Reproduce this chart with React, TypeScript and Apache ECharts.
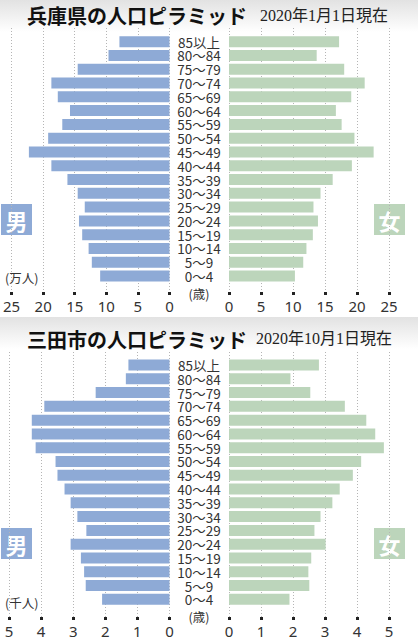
import { useEffect, useRef } from "react";
import * as echarts from "echarts";

const ages = ["0～4", "5～9", "10～14", "15～19", "20～24", "25～29", "30～34", "35～39", "40～44", "45～49", "50～54", "55～59", "60～64", "65～69", "70～74", "75～79", "80～84", "85以上"];

// 兵庫県 (万人), 0～4 first
const hyogoMale = [10.8, 12.1, 12.6, 13.6, 14.1, 13.2, 14.3, 15.9, 18.4, 21.9, 18.9, 16.7, 15.5, 17.4, 18.4, 14.3, 9.5, 7.8];
const hyogoFemale = [10.3, 11.6, 12.1, 13.1, 13.9, 13.2, 14.3, 16.2, 19.2, 22.6, 19.6, 17.6, 16.7, 19.1, 21.2, 18.0, 13.7, 17.2];

// 三田市 (千人)
const sandaMale = [2.1, 2.61, 2.66, 2.76, 3.08, 2.59, 2.87, 3.08, 3.27, 3.49, 3.55, 4.17, 4.29, 4.29, 3.9, 2.3, 1.36, 1.28];
const sandaFemale = [1.89, 2.51, 2.48, 2.57, 3.02, 2.67, 2.86, 3.23, 3.46, 3.87, 4.13, 4.84, 4.57, 4.29, 3.62, 2.54, 1.92, 2.81];

const BLUE = "#8eaad6";
const GREEN = "#bcd5bb";
const FONT = "'Noto Sans CJK JP', 'Noto Sans', sans-serif";

type Panel = {
  max: number;
  step: number;
  male: number[];
  female: number[];
  lineTop: number;
  lineBottom: number;
  barTop: number;
  barBottom: number;
};

const panels: Panel[] = [
  { max: 25, step: 5, male: hyogoMale, female: hyogoFemale, lineTop: 28, lineBottom: 347, barTop: 34.8, barBottom: 356.1 },
  { max: 5, step: 1, male: sandaMale, female: sandaFemale, lineTop: 352, lineBottom: 22, barTop: 358.1, barBottom: 32.8 },
];

const LEFT = { left: 9, right: 248.5 };
const RIGHT = { left: 229, right: 29 };

function buildOption(): echarts.EChartsOption {
  const grid: any[] = [];
  const xAxis: any[] = [];
  const yAxis: any[] = [];
  const series: any[] = [];

  panels.forEach((p) => {
    [LEFT, RIGHT].forEach((side, s) => {
      const inverse = s === 0;
      // grid carrying dotted lines and tick labels
      const gLine = grid.length;
      grid.push({ ...side, top: p.lineTop, bottom: p.lineBottom });
      xAxis.push({
        gridIndex: gLine,
        type: "value",
        min: 0,
        max: p.max,
        interval: p.step,
        inverse,
        axisLine: { show: false },
        axisTick: { show: true, length: 3, lineStyle: { color: "#222", width: 3 } },
        axisLabel: { fontSize: 15, color: "#333", margin: 6, fontFamily: "'Noto Sans', sans-serif" },
        splitLine: { show: true, lineStyle: { type: [1, 2], color: "#b5b5b5", width: 1 } },
      });
      yAxis.push({ gridIndex: gLine, type: "value", show: false });

      // grid carrying the bars
      const gBar = grid.length;
      grid.push({ ...side, top: p.barTop, bottom: p.barBottom });
      xAxis.push({ gridIndex: gBar, type: "value", min: 0, max: p.max, inverse, show: false });
      yAxis.push(
        inverse
          ? {
              gridIndex: gBar,
              type: "category",
              data: ages,
              position: "right",
              axisLine: { show: false },
              axisTick: { show: false },
              axisLabel: {
                interval: 0,
                align: "center",
                margin: 29.5,
                fontSize: 13.5,
                lineHeight: 13,
                color: "#333",
                fontFamily: FONT,
              },
            }
          : { gridIndex: gBar, type: "category", data: ages, show: false }
      );
      series.push({
        type: "bar",
        xAxisIndex: xAxis.length - 1,
        yAxisIndex: yAxis.length - 1,
        data: inverse ? p.male : p.female,
        barWidth: 11,
        itemStyle: { color: inverse ? BLUE : GREEN },
        silent: true,
      });
    });
  });

  const band = (y: number) => ({
    type: "rect",
    shape: { x: 0, y, width: 418, height: 32 },
    style: {
      fill: new echarts.graphic.LinearGradient(0, 0, 0, 1, [
        { offset: 0, color: "#e2e2e2" },
        { offset: 1, color: "#ffffff" },
      ]),
    },
    z: -10,
  });
  const title = (text: string, y: number) => ({
    type: "text",
    x: 27,
    y,
    style: { text, font: `bold 20px ${FONT}`, fill: "#111", verticalAlign: "middle" },
  });
  const date = (text: string, x: number, y: number) => ({
    type: "text",
    x,
    y,
    style: { text, font: `16px 'Liberation Serif', 'Noto Sans CJK JP', serif`, fill: "#222", verticalAlign: "middle" },
  });
  const box = (label: string, x: number, y: number, color: string) => ({
    type: "group",
    children: [
      { type: "rect", shape: { x, y, width: 31, height: 31 }, style: { fill: color } },
      {
        type: "text",
        x: x + 15.5,
        y: y + 16,
        style: { text: label, font: `bold 22px ${FONT}`, fill: "#fff", align: "center", verticalAlign: "middle" },
      },
    ],
  });
  const small = (text: string, x: number, y: number, align = "left") => ({
    type: "text",
    x,
    y,
    style: { text, font: `12.5px ${FONT}`, fill: "#333", align, verticalAlign: "middle" },
  });

  return {
    animation: false,
    backgroundColor: "#fff",
    grid,
    xAxis,
    yAxis,
    series,
    graphic: [
      band(0),
      band(317),
      title("兵庫県の人口ピラミッド", 15),
      title("三田市の人口ピラミッド", 339),
      date("2020年1月1日現在", 260, 15),
      date("2020年10月1日現在", 256, 338),
      box("男", 1, 204, BLUE),
      box("女", 374, 204, GREEN),
      box("男", 1, 528, BLUE),
      box("女", 374, 528, GREEN),
      small("(万人)", 5, 277),
      small("(千人)", 5, 602),
      small("(歳)", 199, 293, "center"),
      small("(歳)", 199, 616, "center"),
    ],
  } as echarts.EChartsOption;
}

export default function App() {
  const ref = useRef<HTMLDivElement | null>(null);

  useEffect(() => {
    if (!ref.current) return;
    const chart = echarts.init(ref.current, undefined, { renderer: "svg" });
    chart.setOption(buildOption());
    return () => chart.dispose();
  }, []);

  return (
    <div
      ref={ref}
      style={{ position: "fixed", left: 0, top: 0, width: 418, height: 639, background: "#fff" }}
    />
  );
}
